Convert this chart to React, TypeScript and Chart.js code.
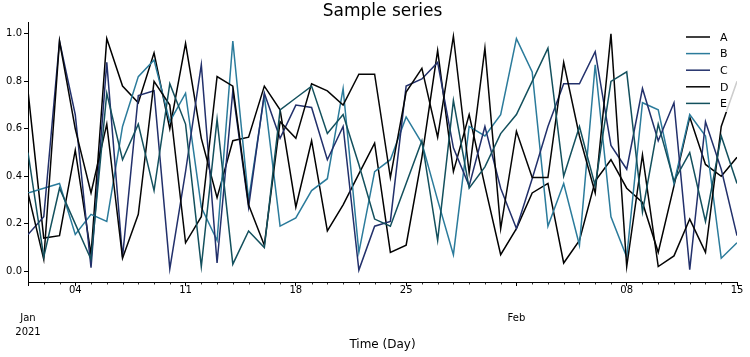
import React, { useEffect, useRef } from 'react';
import { Chart, registerables } from 'chart.js';

Chart.register(...registerables);

// day offsets from 2021-01-01 (Jan 1 .. Feb 15)
const dayOffsets = Array.from({ length: 46 }, (_, i) => i);

const seriesNames = ['A', 'B', 'C', 'D', 'E'];
const seriesColors = ['#000000', '#2b7b9b', '#22306b', '#050505', '#13505d'];

const A = [0.76, 0.14, 0.15, 0.51, 0.07, 0.98, 0.78, 0.71, 0.92, 0.60, 0.96, 0.56, 0.31, 0.55, 0.565, 0.78,
  0.68, 0.27, 0.55, 0.17, 0.28, 0.41, 0.54, 0.08, 0.11, 0.48, 0.93, 0.42, 0.66, 0.36, 0.07, 0.18,
  0.33, 0.37, 0.035, 0.13, 0.38, 0.47, 0.35, 0.29, 0.08, 0.36, 0.65, 0.45, 0.40, 0.48];
const B = [0.33, 0.35, 0.37, 0.155, 0.24, 0.21, 0.61, 0.82, 0.89, 0.63, 0.75, 0.27, 0.13, 0.97, 0.30, 0.74,
  0.19, 0.225, 0.34, 0.39, 0.77, 0.08, 0.42, 0.47, 0.65, 0.54, 0.30, 0.07, 0.61, 0.57, 0.66, 0.98,
  0.84, 0.19, 0.37, 0.11, 0.87, 0.23, 0.06, 0.71, 0.68, 0.37, 0.66, 0.57, 0.055, 0.12];
const C = [0.155, 0.23, 0.97, 0.66, 0.015, 0.88, 0.06, 0.74, 0.76, 0.01, 0.42, 0.87, 0.035, 0.76, 0.27, 0.75,
  0.56, 0.70, 0.69, 0.47, 0.61, 0.005, 0.19, 0.21, 0.78, 0.81, 0.88, 0.52, 0.36, 0.61, 0.35, 0.18,
  0.39, 0.61, 0.79, 0.79, 0.925, 0.53, 0.43, 0.77, 0.55, 0.71, 0.007, 0.63, 0.43, 0.15];
const D = [0.33, 0.05, 0.97, 0.60, 0.33, 0.62, 0.055, 0.24, 0.80, 0.70, 0.12, 0.23, 0.82, 0.78, 0.28, 0.11,
  0.63, 0.56, 0.79, 0.76, 0.70, 0.83, 0.83, 0.395, 0.755, 0.855, 0.565, 0.99, 0.415, 0.94, 0.18, 0.59,
  0.395, 0.395, 0.88, 0.57, 0.33, 1.0, 0.02, 0.49, 0.02, 0.065, 0.22, 0.08, 0.61, 0.80];
const E = [0.50, 0.06, 0.35, 0.20, 0.05, 0.75, 0.47, 0.62, 0.34, 0.79, 0.62, 0.02, 0.64, 0.03, 0.17, 0.10,
  0.68, 0.73, 0.78, 0.58, 0.66, 0.45, 0.22, 0.19, 0.37, 0.55, 0.13, 0.72, 0.35, 0.44, 0.58, 0.66,
  0.80, 0.94, 0.40, 0.61, 0.36, 0.80, 0.84, 0.25, 0.62, 0.38, 0.50, 0.21, 0.57, 0.37];

const seriesValues = [A, B, C, D, E];

const xTickDays = [0, 3, 10, 17, 24, 31, 38, 45];
const xTickLabels: string[][] = [['', '', 'Jan', '2021'], ['04'], ['11'], ['18'], ['25'], ['', '', 'Feb'], ['08'], ['15']];
const yTicks = [0, 0.2, 0.4, 0.6, 0.8, 1.0];

const FONT = '"DejaVu Sans", "Liberation Sans", sans-serif';

const decorPlugin = {
  id: 'decor',
  afterDraw(chart: any) {
    const { ctx, chartArea, scales } = chart;
    const xs = scales.x;
    ctx.save();
    // minor ticks (one per day)
    ctx.strokeStyle = '#000';
    ctx.lineWidth = 0.8;
    for (const d of dayOffsets) {
      if (xTickDays.includes(d)) continue;
      const px = Math.round(xs.getPixelForValue(d)) + 0.5;
      ctx.beginPath();
      ctx.moveTo(px, chartArea.bottom);
      ctx.lineTo(px, chartArea.bottom + 2.5);
      ctx.stroke();
    }
    // title
    ctx.fillStyle = '#000';
    ctx.font = `17px ${FONT}`;
    ctx.textAlign = 'center';
    ctx.textBaseline = 'middle';
    ctx.fillText('Sample series', (chartArea.left + chartArea.right) / 2, 12);
    // legend
    const r = chartArea.right;
    ctx.fillStyle = 'rgba(255,255,255,0.8)';
    ctx.fillRect(r - 56, 27, 57, 85);
    ctx.font = `11px ${FONT}`;
    ctx.textAlign = 'left';
    seriesNames.forEach((name, i) => {
      const y = 37 + i * 16.6;
      ctx.strokeStyle = seriesColors[i];
      ctx.lineWidth = 1.5;
      ctx.beginPath();
      ctx.moveTo(r - 51, y);
      ctx.lineTo(r - 27, y);
      ctx.stroke();
      ctx.fillStyle = '#000';
      ctx.fillText(name, r - 17, y + 1);
    });
    ctx.restore();
  },
};

export default function App() {
  const ref = useRef<HTMLCanvasElement | null>(null);
  useEffect(() => {
    document.body.style.margin = '0';
    const canvas = ref.current;
    if (!canvas) return;
    const chart = new Chart(canvas, {
      type: 'line',
      data: {
        labels: dayOffsets,
        datasets: seriesNames.map((name, i) => ({
          label: name,
          data: seriesValues[i],
          borderColor: seriesColors[i],
          backgroundColor: seriesColors[i],
          borderWidth: 1.5,
          pointRadius: 0,
          tension: 0,
          fill: false,
          order: seriesNames.length - 1 - i,
        })),
      },
      options: {
        animation: false,
        responsive: false,
        devicePixelRatio: 1,
        layout: { padding: { top: 22, right: 13, left: 0, bottom: 0 } },
        plugins: {
          legend: { display: false },
          title: { display: false },
          tooltip: { enabled: false },
        },
        scales: {
          x: {
            type: 'linear',
            min: 0,
            max: 45,
            afterFit: (s: any) => { s.height = 75; },
            afterBuildTicks: (s: any) => { s.ticks = xTickDays.map((v) => ({ value: v })); },
            ticks: {
              autoSkip: false,
              maxRotation: 0,
              minRotation: 0,
              padding: -3,
              color: '#000',
              font: { family: FONT, size: 10, lineHeight: 1.4 },
              callback: (v: any) => {
                const idx = xTickDays.indexOf(Number(v));
                return idx >= 0 ? xTickLabels[idx] : '';
              },
            },
            grid: { drawOnChartArea: false, drawTicks: true, tickLength: 4, color: '#000', lineWidth: 1 },
            border: { display: true, color: '#000', width: 1 },
            title: {
              display: true,
              text: 'Time (Day)',
              color: '#000',
              font: { family: FONT, size: 12 },
              padding: { top: 0, bottom: 5 },
            },
          },
          y: {
            type: 'linear',
            min: -0.045,
            max: 1.05,
            afterFit: (s: any) => { s.width = 28; },
            afterBuildTicks: (s: any) => { s.ticks = yTicks.map((v) => ({ value: v })); },
            ticks: {
              padding: 2,
              color: '#000',
              font: { family: FONT, size: 10 },
              callback: (v: any) => Number(v).toFixed(1),
            },
            grid: { drawOnChartArea: false, drawTicks: true, tickLength: 4, color: '#000', lineWidth: 1 },
            border: { display: true, color: '#000', width: 1 },
          },
        },
      },
      plugins: [decorPlugin],
    });
    return () => chart.destroy();
  }, []);
  return (
    <div style={{ position: 'absolute', left: 0, top: 0, width: 750, height: 357, background: '#fff' }}>
      <canvas ref={ref} width={750} height={357} />
    </div>
  );
}
